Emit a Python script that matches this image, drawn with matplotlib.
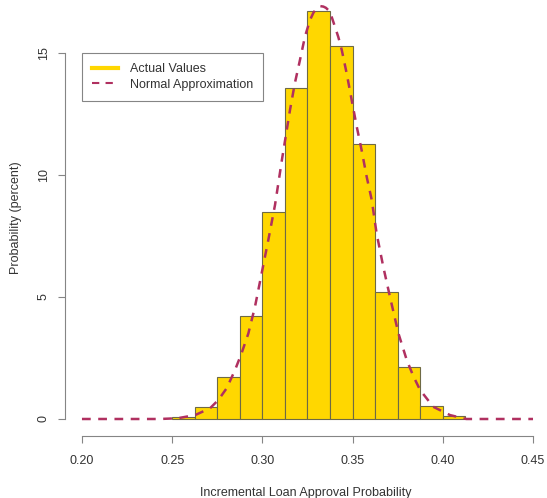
import matplotlib
matplotlib.use("Agg")
import matplotlib.pyplot as plt
from matplotlib.lines import Line2D

# histogram bins (left edges) and heights in percent
bin_width = 0.0125
bin_left = [0.25, 0.2625, 0.275, 0.2875, 0.30, 0.3125, 0.325, 0.3375,
            0.35, 0.3625, 0.375, 0.3875, 0.40]
bin_pct = [0.07, 0.48, 1.72, 4.22, 8.47, 13.55, 16.71, 15.27,
           11.26, 5.19, 2.12, 0.52, 0.11]

# normal approximation curve
curve_x = [0.20, 0.243, 0.253, 0.2627, 0.271, 0.2756, 0.2802, 0.2848,
           0.2885, 0.2922, 0.2959, 0.2996, 0.3033, 0.307, 0.311, 0.3153,
           0.318, 0.3208, 0.3236, 0.3264, 0.3283, 0.3301, 0.332, 0.3338,
           0.3352, 0.3365, 0.3383, 0.3402, 0.3421, 0.344, 0.3467, 0.3495,
           0.3523, 0.355, 0.3578, 0.3606, 0.3633, 0.367, 0.3707, 0.3754,
           0.38, 0.3837, 0.3874, 0.3947, 0.404, 0.413, 0.45]
curve_y = [0.0, 0.0, 0.03, 0.16, 0.44, 0.78, 1.26, 2.0,
           2.7, 3.5, 4.6, 5.97, 7.34, 8.77, 10.7, 12.66,
           13.76, 14.7, 15.67, 16.35, 16.65, 16.83, 16.92, 16.9,
           16.85, 16.76, 16.5, 16.08, 15.65, 15.12, 14.17, 13.07,
           11.98, 11.02, 9.93, 8.98, 7.61, 6.24, 5.01, 3.51,
           2.42, 1.75, 1.19, 0.5, 0.16, 0.0, 0.0]

x_ticks = [0.20, 0.25, 0.30, 0.35, 0.40, 0.45]
y_ticks = [0, 5, 10, 15]

plt.rcParams['font.family'] = ['Liberation Sans', 'DejaVu Sans']
plt.rcParams['font.size'] = 9

gold = '#FFD700'
maroon = '#B03060'
axis_col = '#858585'
text_col = '#333333'

fig = plt.figure(figsize=(5.47, 4.98), dpi=100)
ax = fig.add_axes([65 / 547, 62 / 498, 481 / 547, 436 / 498])

ax.bar(bin_left, bin_pct, width=bin_width, align='edge', color=gold,
       edgecolor='#6e6a45', linewidth=0.8)
ax.plot(curve_x, curve_y, color=maroon, lw=1.8, linestyle=(0, (3.5, 3)))

ax.set_xlim(0.1906, 0.4572)
ax.set_ylim(-0.697, 17.17)

for s in ['top', 'right']:
    ax.spines[s].set_visible(False)
ax.spines['left'].set_bounds(0, 15)
ax.spines['bottom'].set_bounds(0.20, 0.45)
for s in ['left', 'bottom']:
    ax.spines[s].set_color(axis_col)
    ax.spines[s].set_linewidth(0.8)

ax.set_xticks(x_ticks)
ax.set_xticklabels([f"{v:.2f}" for v in x_ticks])
ax.set_yticks(y_ticks)
ax.set_yticklabels([str(v) for v in y_ticks], rotation=90, va='center')
ax.tick_params(length=5, width=0.8, color=axis_col, labelcolor=text_col)
ax.tick_params(axis='x', pad=9)
ax.tick_params(axis='y', pad=6)

ax.set_xlabel('Incremental Loan Approval Probability', color=text_col, labelpad=14)
ax.set_ylabel('Probability (percent)', color=text_col, labelpad=11)

handles = [Line2D([0], [0], color=gold, lw=3),
           Line2D([0], [0], color=maroon, lw=1.5, linestyle=(0, (3.5, 3)))]
leg = ax.legend(handles, ['Actual Values', 'Normal Approximation'],
                loc='upper left', bbox_to_anchor=(17 / 481, 383 / 436),
                borderaxespad=0, fancybox=False, framealpha=1,
                edgecolor=axis_col, handlelength=2.1, handletextpad=0.9,
                labelspacing=0.3, borderpad=0.8)
leg.get_frame().set_linewidth(0.8)
for t in leg.get_texts():
    t.set_color(text_col)

fig.savefig('out.png', dpi=100)
